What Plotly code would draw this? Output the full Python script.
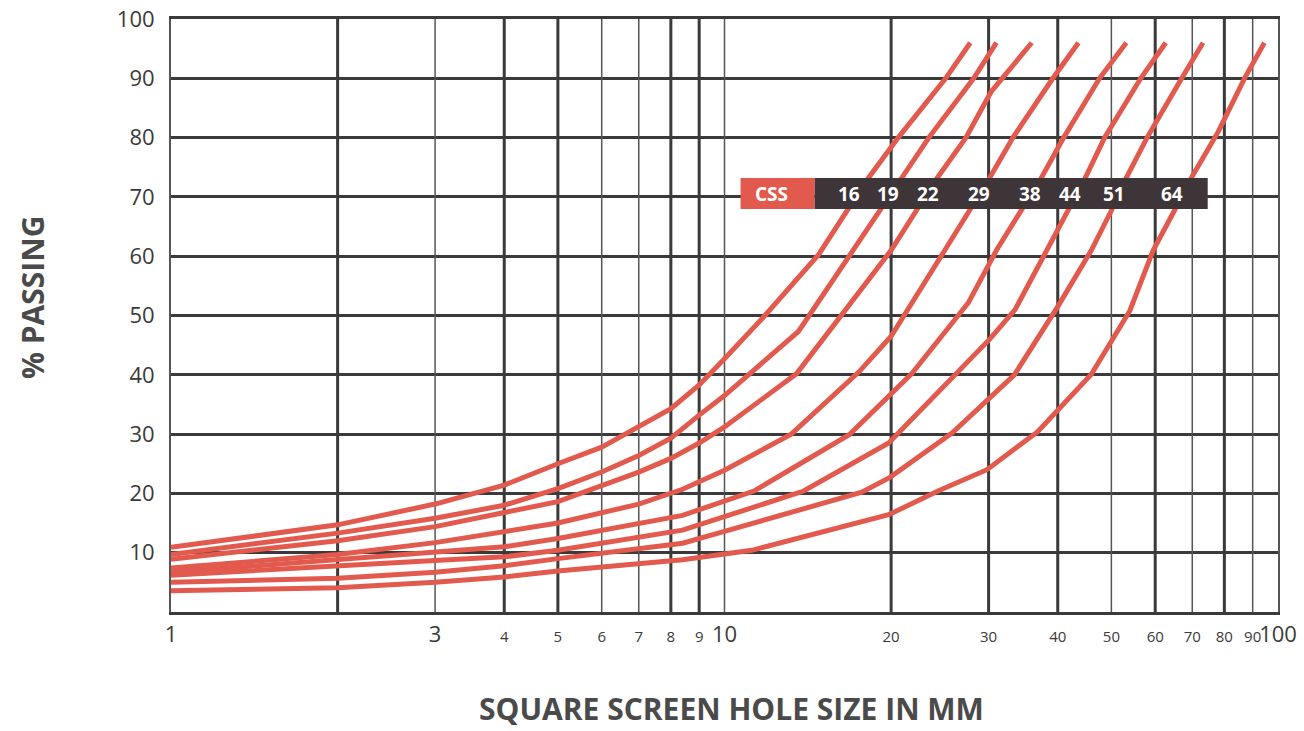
import plotly.graph_objects as go

# ---------------- data ----------------
css_sizes = [16, 19, 22, 29, 38, 44, 51, 64]

x16 = [1, 2, 3, 4, 5, 6, 8, 9, 10, 11.7, 14.8, 18.1, 20.6, 25.1, 27.8]
y16 = [10.9, 14.7, 18.2, 21.4, 25.0, 27.8, 34.3, 38.3, 42.7, 49.5, 60.3, 72.9, 80, 90, 96]

x19 = [1, 2, 3, 4, 5, 6, 7, 8, 9, 10, 13.6, 17.1, 20.8, 23.4, 28.2, 31.0]
y19 = [9.7, 13.3, 15.8, 18.0, 20.8, 23.6, 26.4, 29.3, 33.2, 36.5, 47.3, 61, 72.9, 80, 90, 96]

x22 = [1, 2, 3, 4, 5, 7, 8, 9, 10, 13.5, 20, 24.1, 27.3, 30.3, 35.9]
y22 = [8.9, 12.0, 14.4, 16.7, 18.6, 23.6, 25.9, 28.5, 31.2, 40.2, 61, 72.9, 80, 87.7, 96]

x29 = [1, 2, 3, 4, 5, 7, 8.4, 10, 13.2, 17.5, 20, 25, 30, 33.2, 39.2, 43.6]
y29 = [7.4, 9.7, 11.7, 13.5, 15.0, 18.2, 20.7, 23.9, 30.0, 40.5, 46.5, 61, 72.9, 80, 90, 96]

x38 = [1, 2, 3, 4, 5, 8.4, 11.3, 16.8, 21.8, 27.6, 31, 37.2, 41.0, 47.6, 53.2]
y38 = [6.7, 8.8, 10.0, 11.0, 12.4, 16.3, 20.4, 29.9, 40.2, 52.2, 61, 72.9, 80, 90, 96]

x44 = [1, 2, 3, 4, 5, 8.4, 10, 13.9, 19.8, 26.2, 30.2, 33.5, 38.2, 44.7, 48.6, 56.5, 62.7]
y44 = [6.2, 7.9, 8.7, 9.3, 10.4, 13.8, 16.1, 20.4, 28.5, 40, 46.1, 51, 61, 72.9, 80, 90, 96]

x51 = [1, 2, 3, 4, 5, 8.4, 10, 17.7, 19.9, 25.8, 33.4, 40, 46, 50, 53, 58, 67, 73.2]
y51 = [5.0, 5.7, 6.7, 7.8, 9.0, 11.6, 13.6, 20.2, 22.7, 30.2, 40.0, 51.5, 61, 67.7, 72.9, 80, 90, 96]

x64 = [1, 2, 3, 4, 5, 8.4, 11.2, 19.8, 24.3, 29.8, 36.8, 46, 54, 59.5, 65, 70, 78, 87, 94.5]
y64 = [3.6, 4.1, 5.0, 5.9, 6.9, 8.8, 10.4, 16.4, 20.4, 24.0, 30.4, 40.1, 50.8, 61, 67.7, 73.5, 81, 90, 96]

curves_x = [x16, x19, x22, x29, x38, x44, x51, x64]
curves_y = [y16, y19, y22, y29, y38, y44, y51, y64]

x_grid_thick = [2, 4, 5, 8, 9, 20, 30, 40, 60, 80]
x_grid_thin = [3, 6, 7, 10, 50, 70, 90]
x_labels_big = [1, 3, 10, 100]
x_labels_small = [4, 5, 6, 7, 8, 9, 20, 30, 40, 50, 60, 70, 80, 90]
y_ticks = [10, 20, 30, 40, 50, 60, 70, 80, 90, 100]

# positions (paper coords) of legend texts
css_label_pos = [0.6125, 0.6475, 0.6835, 0.7300, 0.7760, 0.8120, 0.8515, 0.9040]

# ---------------- styles ----------------
RED = "#e25a4e"
GRID = "#3a3a3a"
DARK = "#3d3538"
TXT = "#3a3a3a"
FONT = "Open Sans"

fig = go.Figure()


def vlines(vals):
    xs, ys = [], []
    for v in vals:
        xs += [v, v, None]
        ys += [0, 100, None]
    return xs, ys


tx, ty = vlines(x_grid_thin)
fig.add_trace(go.Scatter(x=tx, y=ty, mode="lines", line=dict(color="#555555", width=1.5),
                         hoverinfo="skip", showlegend=False))
tx, ty = vlines(x_grid_thick)
fig.add_trace(go.Scatter(x=tx, y=ty, mode="lines", line=dict(color=GRID, width=3),
                         hoverinfo="skip", showlegend=False))

for name, xs, ys in zip(css_sizes, curves_x, curves_y):
    fig.add_trace(go.Scatter(x=xs, y=ys, mode="lines", name=f"CSS {name}",
                             line=dict(color=RED, width=5), showlegend=False))

# legend box
fig.add_shape(type="rect", xref="paper", yref="paper", x0=0.5145, x1=0.5815, y0=0.6796, y1=0.7319,
              fillcolor=RED, line=dict(width=0), layer="above")
fig.add_shape(type="rect", xref="paper", yref="paper", x0=0.5815, x1=0.9365, y0=0.6796, y1=0.7319,
              fillcolor=DARK, line=dict(width=0), layer="above")
fig.add_annotation(x=0.5428, y=0.7057, xref="paper", yref="paper", text="<b>CSS</b>", showarrow=False,
                   xanchor="center", yanchor="middle",
                   font=dict(family=FONT, size=19, color="white"))
for v, px in zip(css_sizes, css_label_pos):
    fig.add_annotation(x=px, y=0.7057, xref="paper", yref="paper", text=f"<b>{v}</b>", showarrow=False,
                       xanchor="center", yanchor="middle",
                       font=dict(family=FONT, size=19, color="white"))

# axis titles
fig.add_annotation(x=0.506, y=-0.162, xref="paper", yref="paper",
                   text="<b>SQUARE SCREEN HOLE SIZE IN MM</b>", showarrow=False,
                   xanchor="center", yanchor="middle",
                   font=dict(family=FONT, size=30, color="#4a4a4a"))
fig.add_annotation(x=-0.1256, y=0.531, xref="paper", yref="paper", textangle=-90,
                   text="<b>% PASSING</b>", showarrow=False,
                   xanchor="center", yanchor="middle",
                   font=dict(family=FONT, size=30, color="#4a4a4a"))

fig.update_layout(
    width=1304, height=731,
    margin=dict(l=171, r=26, t=19, b=119, autoexpand=False),
    paper_bgcolor="white", plot_bgcolor="white",
    xaxis=dict(type="log", range=[0, 2], tickvals=x_labels_big,
               ticktext=[str(v) for v in x_labels_big],
               tickfont=dict(family=FONT, size=22, color=TXT),
               showgrid=False, zeroline=False, showline=True, mirror=True,
               linecolor=GRID, linewidth=3, ticks="", ticklabelstandoff=1, automargin=False),
    xaxis2=dict(type="log", range=[0, 2], overlaying="x", matches="x", anchor="y", side="bottom",
                tickvals=x_labels_small, ticktext=[str(v) for v in x_labels_small],
                tickfont=dict(family=FONT, size=15, color=TXT),
                showgrid=False, zeroline=False, showline=False, ticks="", ticklabelstandoff=14,
                automargin=False),
    yaxis=dict(range=[0, 100], tickvals=y_ticks, ticktext=[str(v) for v in y_ticks],
               tickfont=dict(family=FONT, size=22, color=TXT),
               showgrid=True, gridcolor=GRID, gridwidth=3, zeroline=False,
               showline=True, mirror=True, linecolor="#555555", linewidth=2,
               ticks="", ticklabelstandoff=10, automargin=False),
    showlegend=False,
)

# dummy trace to activate xaxis2
fig.add_trace(go.Scatter(x=[1, 100], y=[None, None], xaxis="x2", yaxis="y", mode="lines",
                         hoverinfo="skip", showlegend=False))

fig.write_html("out.html", config={"displayModeBar": False},
               post_script="document.body.style.margin='0';document.body.style.overflow='hidden';")
